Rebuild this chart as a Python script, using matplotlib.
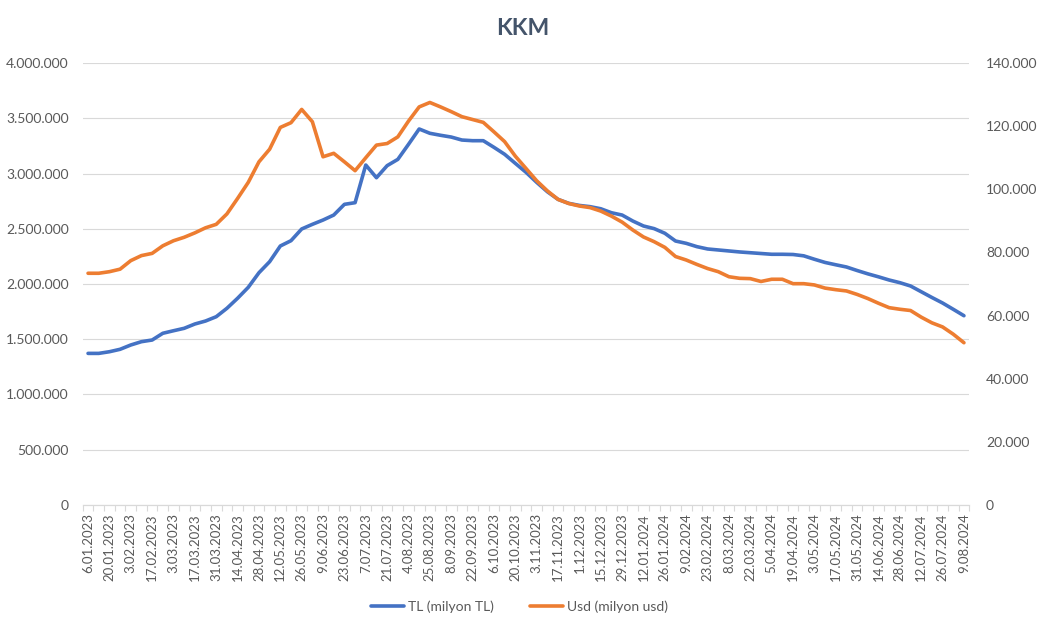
import matplotlib
matplotlib.use("Agg")
from matplotlib import pyplot as plt
from matplotlib.ticker import FuncFormatter, MultipleLocator, FixedLocator
import numpy as np

# weekly dates (18.08.2023 not in the data)
dates = [
    "6.01.2023", "13.01.2023", "20.01.2023", "27.01.2023", "3.02.2023", "10.02.2023",
    "17.02.2023", "24.02.2023", "3.03.2023", "10.03.2023", "17.03.2023", "24.03.2023",
    "31.03.2023", "7.04.2023", "14.04.2023", "21.04.2023", "28.04.2023", "5.05.2023",
    "12.05.2023", "19.05.2023", "26.05.2023", "2.06.2023", "9.06.2023", "16.06.2023",
    "23.06.2023", "30.06.2023", "7.07.2023", "14.07.2023", "21.07.2023", "28.07.2023",
    "4.08.2023", "11.08.2023", "25.08.2023", "1.09.2023", "8.09.2023", "15.09.2023",
    "22.09.2023", "29.09.2023", "6.10.2023", "13.10.2023", "20.10.2023", "27.10.2023",
    "3.11.2023", "10.11.2023", "17.11.2023", "24.11.2023", "1.12.2023", "8.12.2023",
    "15.12.2023", "22.12.2023", "29.12.2023", "5.01.2024", "12.01.2024", "19.01.2024",
    "26.01.2024", "2.02.2024", "9.02.2024", "16.02.2024", "23.02.2024", "1.03.2024",
    "8.03.2024", "15.03.2024", "22.03.2024", "29.03.2024", "5.04.2024", "12.04.2024",
    "19.04.2024", "26.04.2024", "3.05.2024", "10.05.2024", "17.05.2024", "24.05.2024",
    "31.05.2024", "7.06.2024", "14.06.2024", "21.06.2024", "28.06.2024", "5.07.2024",
    "12.07.2024", "19.07.2024", "26.07.2024", "2.08.2024", "9.08.2024",
]

# TL (milyon TL)
tl = [
    1372000, 1372000, 1387000, 1409000, 1448000, 1478000, 1493000, 1554000, 1577000, 1599000,
    1638000, 1665000, 1704000, 1780000, 1871000, 1970000, 2102000, 2202000, 2344000, 2392000,
    2498000, 2540000, 2579000, 2624000, 2721000, 2736000, 3077000, 2962000, 3071000, 3128000,
    3264000, 3403000, 3364000, 3346000, 3330000, 3303000, 3297000, 3297000, 3237000, 3174000,
    3092000, 3011000, 2920000, 2835000, 2766000, 2730000, 2711000, 2700000, 2681000, 2645000,
    2624000, 2570000, 2525000, 2501000, 2459000, 2389000, 2368000, 2338000, 2317000, 2308000,
    2299000, 2290000, 2283000, 2276000, 2269000, 2269000, 2267000, 2255000, 2224000, 2195000,
    2174000, 2154000, 2122000, 2092000, 2065000, 2036000, 2012000, 1982000, 1930000, 1878000,
    1828000, 1771000, 1713000,
]

# Usd (milyon usd)
usd = [
    73400, 73400, 73900, 74700, 77400, 79000, 79700, 82100, 83700, 84800,
    86200, 87800, 88900, 92200, 97100, 102200, 108700, 112700, 119600, 121100,
    125300, 121400, 110300, 111400, 108700, 105900, 110000, 114000, 114500, 116600,
    121600, 126100, 127500, 126100, 124600, 123000, 122100, 121200, 118200, 115100,
    110500, 106600, 102700, 99500, 96800, 95500, 94700, 94200, 93100, 91500,
    89600, 87100, 84900, 83400, 81600, 78700, 77600, 76200, 74900, 73900,
    72300, 71800, 71700, 70800, 71500, 71500, 70100, 70100, 69700, 68700,
    68200, 67800, 66700, 65400, 63900, 62500, 62000, 61600, 59500, 57700,
    56400, 54100, 51400,
]

TXT = "#595959"
plt.rcParams["font.family"] = ["Lato", "DejaVu Sans"]


def dotted(v, pos):
    return f"{v:,.0f}".replace(",", ".")


fig = plt.figure(figsize=(10.39, 6.34), dpi=100)
ax = fig.add_axes([0.0796, 0.2035, 0.8533, 0.6971])
ax2 = ax.twinx()

x = np.arange(len(dates))
l1, = ax.plot(x, tl, color="#4472C4", linewidth=2.6, label="TL (milyon TL)", solid_capstyle="round")
l2, = ax2.plot(x, usd, color="#ED7D31", linewidth=2.6, label="Usd (milyon usd)", solid_capstyle="round")

ax.set_xlim(-0.5, len(dates) - 0.5)
ax.set_ylim(0, 4000000)
ax2.set_ylim(0, 140000)
ax.yaxis.set_major_locator(MultipleLocator(500000))
ax2.yaxis.set_major_locator(MultipleLocator(20000))
ax.yaxis.set_major_formatter(FuncFormatter(dotted))
ax2.yaxis.set_major_formatter(FuncFormatter(dotted))
ax.grid(axis="y", color="#D9D9D9", linewidth=0.8)
ax.set_axisbelow(True)

# labels on every second category, tick marks between categories
ax.xaxis.set_major_locator(FixedLocator(x[::2]))
ax.set_xticklabels(dates[::2], rotation=90)
ax.xaxis.set_minor_locator(FixedLocator(np.arange(-0.5, len(dates), 1.0)))
ax.tick_params(axis="x", which="major", length=0, pad=6, labelsize=9.5, labelcolor=TXT)
ax.tick_params(axis="x", which="minor", length=4, color="#D9D9D9", width=0.8)
ax.tick_params(axis="y", length=0, pad=10, labelsize=10, labelcolor=TXT)
ax2.tick_params(axis="y", length=0, pad=12, labelsize=10, labelcolor=TXT)

for a in (ax, ax2):
    for s in ("top", "left", "right"):
        a.spines[s].set_visible(False)
    a.spines["bottom"].set_color("#D9D9D9")

fig.suptitle("KKM", x=0.503, y=0.955, va="center", fontsize=16.5, fontweight="bold", color="#44546A")
fig.legend(handles=[l1, l2], loc="center", bbox_to_anchor=(0.5, 0.043), ncol=2, frameon=False,
           fontsize=10, labelcolor=TXT, handlelength=2.4, handletextpad=0.3, columnspacing=2.6)

plt.savefig("out.png", dpi=100)
